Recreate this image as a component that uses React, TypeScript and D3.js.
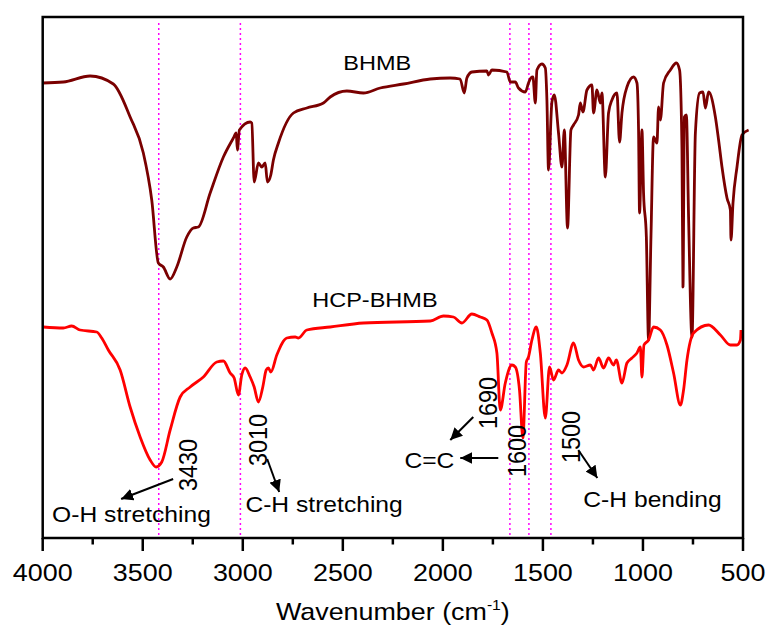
import React from "react";
import * as d3 from "d3";

// Wavenumber (cm-1) and relative transmittance (a.u.)
const bhmbWave = [4000,3897,3763,3647,3563,3497,3455,3422,3397,3363,3330,3280,3247,3222,3163,3097,3047,3033,3027,3017,2963,2955,2943,2922,2905,2888,2877,2860,2847,2822,2747,2680,2597,2563,2480,2397,2313,2197,2063,1964,1914,1893,1880,1855,1780,1772,1755,1680,1663,1638,1622,1588,1572,1560,1550,1538,1530,1505,1488,1480,1472,1455,1443,1422,1405,1393,1377,1360,1347,1322,1313,1300,1280,1255,1247,1230,1213,1205,1188,1172,1155,1130,1117,1105,1080,1047,1030,1022,1017,1005,997,983,972,960,947,930,922,913,897,863,833,817,805,800,793,783,772,755,738,717,700,688,672,638,622,605,580,563,560,550,530,505,472];
const bhmbValue = [454,455,461,453,420,384,337,274,270,258,270,300,309,310,344,380,399,404,387,407,415,414,355,374,370,374,355,362,377,394,424,429,434,440,446,444,449,453,458,459,458,444,459,465,466,462,467,465,455,455,449,445,454,459,460,434,467,473,469,437,367,435,442,404,370,407,309,407,412,422,434,425,447,452,424,447,434,444,360,424,437,444,395,424,450,460,454,407,324,407,344,300,197,300,400,394,430,417,454,467,474,467,387,250,420,422,320,200,404,444,445,429,445,420,397,370,339,327,297,334,370,402,407];

const hcpWave = [3997,3897,3855,3813,3730,3705,3672,3613,3563,3513,3463,3433,3405,3363,3313,3263,3197,3130,3097,3063,3043,3022,3005,2988,2963,2943,2922,2900,2883,2872,2860,2830,2780,2738,2722,2680,2563,2397,2063,1997,1947,1905,1855,1813,1780,1755,1730,1713,1688,1655,1638,1617,1600,1583,1572,1555,1533,1513,1488,1467,1447,1422,1405,1380,1347,1322,1297,1263,1247,1222,1197,1172,1147,1133,1105,1080,1055,1030,1013,1005,995,972,947,913,880,847,813,797,780,747,672,613,563,530,513,510];
const hcpValue = [210,209,211,207,205,199,187,167,130,100,77,70,75,107,140,150,160,175,176,164,159,142,162,169,160,150,135,150,167,169,165,182,199,200,199,207,210,214,216,221,220,214,223,220,217,204,184,127,154,172,170,147,99,175,180,197,210,184,119,170,157,167,164,172,194,177,170,172,167,179,169,179,172,177,154,174,179,184,190,160,192,197,210,207,192,164,132,147,177,204,212,202,192,192,197,207];

const markerLines = [3420, 3012, 1665, 1570, 1460];
const xTicksMajor = [4000, 3500, 3000, 2500, 2000, 1500, 1000, 500];
const xTicksMinor = [3750, 3250, 2750, 2250, 1750, 1250, 750];

const seriesLabels = [
  { text: "BHMB", w: 2498, v: 467 },
  { text: "HCP-BHMB", w: 2653, v: 230 },
];
const peakLabels = [
  { text: "3430", w: 3276, v: 72 },
  { text: "3010", w: 2928, v: 97 },
  { text: "1690", w: 1778, v: 134 },
  { text: "1600", w: 1633, v: 86 },
  { text: "1500", w: 1363, v: 100 },
];
const bandLabels = [
  { text: "O-H stretching", w: 3953, v: 15 },
  { text: "C-H stretching", w: 2987, v: 25 },
  { text: "C=C", w: 2192, v: 69 },
  { text: "C-H bending", w: 1298, v: 30 },
];
const arrows = [
  { w1: 3348, v1: 58, w2: 3608, v2: 38 },
  { w1: 2878, v1: 78, w2: 2818, v2: 45 },
  { w1: 1848, v1: 120, w2: 1963, v2: 97 },
  { w1: 1723, v1: 79, w2: 1913, v2: 79 },
  { w1: 1323, v1: 87, w2: 1228, v2: 59 },
];

const W = 771, H = 628;
const left = 42.7, right = 743, top = 17, bottom = 538;
const SX = 1.12;
const FONT = "'Liberation Sans', Arial, sans-serif";

export default function App() {
  const x = d3.scaleLinear().domain([4000, 500]).range([left, right]);
  const y = d3.scaleLinear().domain([-1, 520]).range([bottom, top]);
  const line = d3
    .line<[number, number]>()
    .x((d) => x(d[0]))
    .y((d) => y(d[1]))
    .curve(d3.curveMonotoneX);
  const bhmb = bhmbWave.map((w, i) => [w, bhmbValue[i]] as [number, number]).sort((a, b) => a[0] - b[0]);
  const hcp = hcpWave.map((w, i) => [w, hcpValue[i]] as [number, number]).sort((a, b) => a[0] - b[0]);

  const stext = (
    key: string,
    tx: number,
    ty: number,
    size: number,
    content: React.ReactNode,
    anchor = "start",
    rotate = 0,
    baseline = "alphabetic"
  ) => (
    <g key={key} transform={`translate(${tx},${ty}) scale(${SX},1)${rotate ? ` rotate(${rotate})` : ""}`}>
      <text
        fontFamily={FONT}
        fontSize={size}
        textAnchor={anchor}
        dominantBaseline={baseline}
        fill="#000"
      >
        {content}
      </text>
    </g>
  );

  return (
    <svg width={W} height={H} style={{ position: "absolute", left: 0, top: 0, background: "#fff" }}>
      <defs>
        <marker id="ah" viewBox="0 0 10 10" refX="10" refY="5" markerWidth="6" markerHeight="6" orient="auto" markerUnits="strokeWidth">
          <path d="M0,0 L10,5 L0,10 z" fill="#000" />
        </marker>
      </defs>
      <rect x={0} y={0} width={W} height={H} fill="#fff" />
      {markerLines.map((w) => (
        <line key={w} x1={x(w)} x2={x(w)} y1={top + 6} y2={bottom} stroke="#ff00ff" strokeWidth={1.5} strokeDasharray="2,3" />
      ))}
      <path d={line(bhmb) || ""} fill="none" stroke="#7a0000" strokeWidth={2.8} strokeLinejoin="round" />
      <path d={line(hcp) || ""} fill="none" stroke="#ff0000" strokeWidth={2.8} strokeLinejoin="round" />
      <rect x={left} y={top} width={right - left} height={bottom - top} fill="none" stroke="#000" strokeWidth={2.5} />
      {xTicksMajor.map((t) => (
        <line key={"M" + t} x1={x(t)} x2={x(t)} y1={bottom} y2={bottom + 13} stroke="#000" strokeWidth={2.5} />
      ))}
      {xTicksMinor.map((t) => (
        <line key={"m" + t} x1={x(t)} x2={x(t)} y1={bottom} y2={bottom + 6.5} stroke="#000" strokeWidth={2.5} />
      ))}
      {xTicksMajor.map((t) => stext("L" + t, x(t), 581, 24, String(t), "middle"))}
      {stext(
        "title",
        (left + right) / 2,
        620,
        24,
        <>
          Wavenumber (cm<tspan fontSize={14} dy={-10}>-1</tspan>
          <tspan dy={10}>)</tspan>
        </>,
        "middle"
      )}
      {seriesLabels.map((s) => stext(s.text, x(s.w), y(s.v), 21, s.text))}
      {bandLabels.map((s) => stext(s.text, x(s.w), y(s.v), 22, s.text))}
      {peakLabels.map((s) => stext(s.text, x(s.w), y(s.v), 23.5, s.text, "middle", -90, "central"))}
      {arrows.map((a, i) => (
        <line
          key={"a" + i}
          x1={x(a.w1)}
          y1={y(a.v1)}
          x2={x(a.w2)}
          y2={y(a.v2)}
          stroke="#000"
          strokeWidth={2}
          markerEnd="url(#ah)"
        />
      ))}
    </svg>
  );
}
